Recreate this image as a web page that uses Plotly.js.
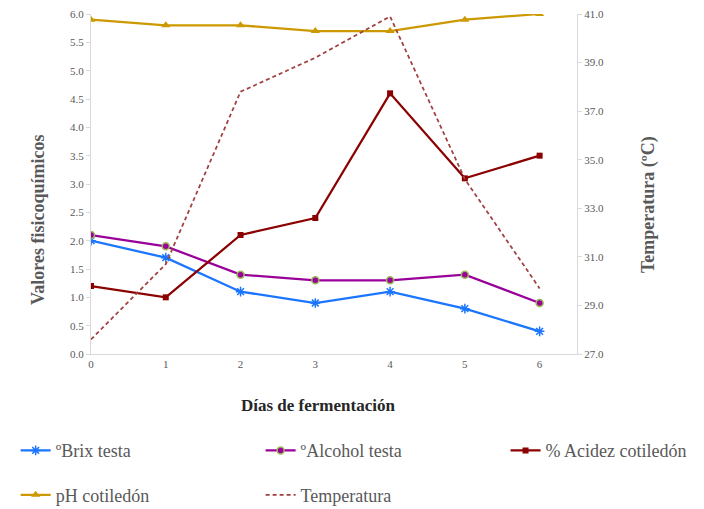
<!DOCTYPE html>
<html><head><meta charset="utf-8">
<script src="https://cdn.plot.ly/plotly-3.0.1.min.js"></script>
<style>html,body{margin:0;padding:0;background:#fff}#chart{width:704px;height:509px}</style>
</head><body><div id="chart"></div>
<script>
const days = [0, 1, 2, 3, 4, 5, 6];
const brix = [2.0, 1.7, 1.1, 0.9, 1.1, 0.8, 0.4];
const alcohol = [2.1, 1.9, 1.4, 1.3, 1.3, 1.4, 0.9];
const acidez = [1.2, 1.0, 2.1, 2.4, 4.6, 3.1, 3.5];
const ph = [5.9, 5.8, 5.8, 5.7, 5.7, 5.9, 6.0];
const temperatura = [27.6, 30.7, 37.8, 39.2, 40.9, 34.2, 29.7];
const leftTicks = [0,0.5,1,1.5,2,2.5,3,3.5,4,4.5,5,5.5,6];
const rightTicks = [27,29,31,33,35,37,39,41];

const font = 'Liberation Serif';
const traces = [
  {x: days, y: brix, name: 'ºBrix testa', mode: 'lines+markers', legend: 'legend', legendgroup: 'a',
   line: {color: '#1a75ff', width: 2.25},
   marker: {symbol: 'asterisk-open', size: 8, line: {color: '#1a75ff', width: 1.5}}},
  {x: days, y: alcohol, name: 'ºAlcohol testa', mode: 'lines+markers', legend: 'legend2', legendgroup: 'b',
   line: {color: '#990099', width: 2.25},
   marker: {symbol: 'circle', size: 7, color: '#990099', line: {color: '#9bbb59', width: 1.5}}},
  {x: days, y: acidez, name: '% Acidez cotiledón', mode: 'lines+markers', legend: 'legend3', legendgroup: 'c',
   line: {color: '#8b0000', width: 2.25},
   marker: {symbol: 'square', size: 6, color: '#8b0000'}},
  {x: days, y: ph, name: 'pH cotiledón', mode: 'lines+markers', legend: 'legend', legendgroup: 'd',
   line: {color: '#cc9900', width: 2.25},
   marker: {symbol: 'triangle-up', size: 8, color: '#cc9900'}},
  {x: days, y: temperatura, name: 'Temperatura', mode: 'lines', yaxis: 'y2', legend: 'legend2', legendgroup: 'e',
   line: {color: '#a0403f', width: 1.75, dash: '4px,3px'}}
];

function leg(x) {
  return {orientation: 'v', x: x, xanchor: 'left', y: -0.23, yanchor: 'top',
    font: {family: font, size: 18, color: '#595959'}, tracegroupgap: 18,
    bgcolor: 'rgba(0,0,0,0)'};
}

const layout = {
  width: 704, height: 509,
  margin: {l: 91, r: 127, t: 14, b: 155, autoexpand: false},
  paper_bgcolor: '#fff', plot_bgcolor: '#fff',
  font: {family: font, color: '#595959', size: 11},
  showlegend: true,
  legend: leg(-0.155),
  legend2: leg(0.349),
  legend3: leg(0.853),
  xaxis: {range: [0, 6.5], tickvals: days, ticktext: days.map(String),
    showgrid: false, zeroline: false, showline: true, linecolor: '#d9d9d9', linewidth: 1,
    ticks: '', tickfont: {family: font, size: 11, color: '#595959'}},
  yaxis: {range: [0, 6], tickvals: leftTicks, ticktext: leftTicks.map(v => v.toFixed(1)),
    showgrid: false, zeroline: false, showline: true, linecolor: '#d9d9d9', linewidth: 1,
    ticks: 'outside', ticklen: 4, tickcolor: '#d9d9d9',
    tickfont: {family: font, size: 11, color: '#595959'}},
  yaxis2: {range: [27, 41], overlaying: 'y', side: 'right', tickvals: rightTicks,
    ticktext: rightTicks.map(v => v.toFixed(1)),
    showgrid: false, zeroline: false, showline: true, linecolor: '#d9d9d9', linewidth: 1,
    ticks: 'outside', ticklen: 4, tickcolor: '#d9d9d9',
    tickfont: {family: font, size: 11, color: '#595959'}},
  annotations: [
    {text: '<b>Días de fermentación</b>', xref: 'paper', yref: 'paper', x: (318-91)/486, y: (354-406)/340,
     xanchor: 'center', yanchor: 'middle', showarrow: false, font: {family: font, size: 17, color: '#262626'}},
    {text: '<b>Valores fisicoquímicos</b>', xref: 'paper', yref: 'paper', x: (38-91)/486, y: (354-220)/340,
     xanchor: 'center', yanchor: 'middle', textangle: -90, showarrow: false, font: {family: font, size: 18, color: '#595959'}},
    {text: '<b>Temperatura (ºC)</b>', xref: 'paper', yref: 'paper', x: (648-91)/486, y: (354-205)/340,
     xanchor: 'center', yanchor: 'middle', textangle: -90, showarrow: false, font: {family: font, size: 18, color: '#595959'}}
  ]
};
Plotly.newPlot('chart', traces, layout, {staticPlot: true, displayModeBar: false});
</script></body></html>
